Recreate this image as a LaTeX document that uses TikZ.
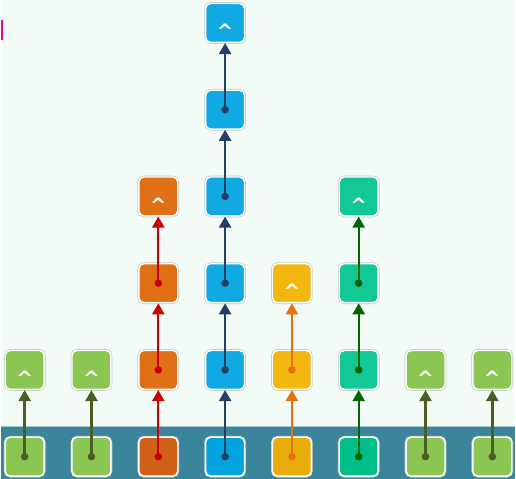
\documentclass[tikz,border=0pt]{standalone}
\usepackage{tikz}
\usepackage{fontspec}
\newfontfamily\caretfont{DejaVu Sans}
\usetikzlibrary{arrows.meta}
\definecolor{mint}{HTML}{F2FBF6}
\definecolor{band}{HTML}{3A8599}
\definecolor{bandedge}{HTML}{A9C9D1}
\definecolor{leaf}{HTML}{8CC652}
\definecolor{olive}{HTML}{4B5E24}
\definecolor{ember}{HTML}{E07016}
\definecolor{emberdk}{HTML}{D0601A}
\definecolor{crimson}{HTML}{CC0000}
\definecolor{sky}{HTML}{10A9E1}
\definecolor{skydk}{HTML}{02A2DE}
\definecolor{navy}{HTML}{243F66}
\definecolor{amber}{HTML}{F3B810}
\definecolor{amberdk}{HTML}{E8AD0A}
\definecolor{tangerine}{HTML}{E8700F}
\definecolor{jade}{HTML}{12C896}
\definecolor{jadedk}{HTML}{00BE88}
\definecolor{forest}{HTML}{006600}

\begin{document}
\begin{tikzpicture}[x=1pt, y=1pt]

  % === Stacked columns of tiles on a base band ===
  \def\colW{67}    % column spacing
  \def\rowH{87}    % row spacing

  \tikzset{
    tile/.style={rectangle, rounded corners=5pt, minimum size=39pt, inner sep=0pt,
      line width=1.4pt, draw=white, preaction={draw=black!22, line width=2.8pt}},
    caret/.style={text=white, font=\caretfont\bfseries\fontsize{20}{20}\selectfont, inner sep=0pt},
    link/.style={line width=2.4pt, -{Triangle[width=12pt, length=11pt]}}
  }

  % Background
  \fill[mint] (0, 0) rectangle (516, 480);
  % Base band
  \fill[band] (0, 0) rectangle (516, 52);
  \draw[bandedge, line width=1.5pt] (0, 52.5) -- (516, 52.5);
  % Edge mark
  \fill[magenta] (0, 440) rectangle (2, 460);

  % Columns: index / height / tile colour / base colour / link colour
  \foreach \i/\h/\tilec/\basec/\linkc in {0/1/leaf/leaf/olive, 1/1/leaf/leaf/olive,
      2/3/ember/emberdk/crimson, 3/5/sky/skydk/navy, 4/2/amber/amberdk/tangerine,
      5/3/jade/jadedk/forest, 6/1/leaf/leaf/olive, 7/1/leaf/leaf/olive} {
    \node[tile, fill=\basec] (c\i-0) at (24 + \i*\colW, 22) {};
    \foreach \r in {1,...,\h} {
      \node[tile, fill=\tilec] (c\i-\r) at (24 + \i*\colW, 22 + \r*\rowH) {};
    }
    % caret on the top tile
    \node[caret, below=1pt] (k\i) at (c\i-\h.center) {\^{}};
    % links from each tile up to the next
    \foreach \r in {1,...,\h} {
      \pgfmathtruncatemacro{\p}{\r - 1}
      \draw[link, \linkc] (c\i-\p.center) -- (c\i-\r.south);
      \fill[\linkc] (c\i-\p.center) circle (3.8);
    }
  }

\end{tikzpicture}
\end{document}
